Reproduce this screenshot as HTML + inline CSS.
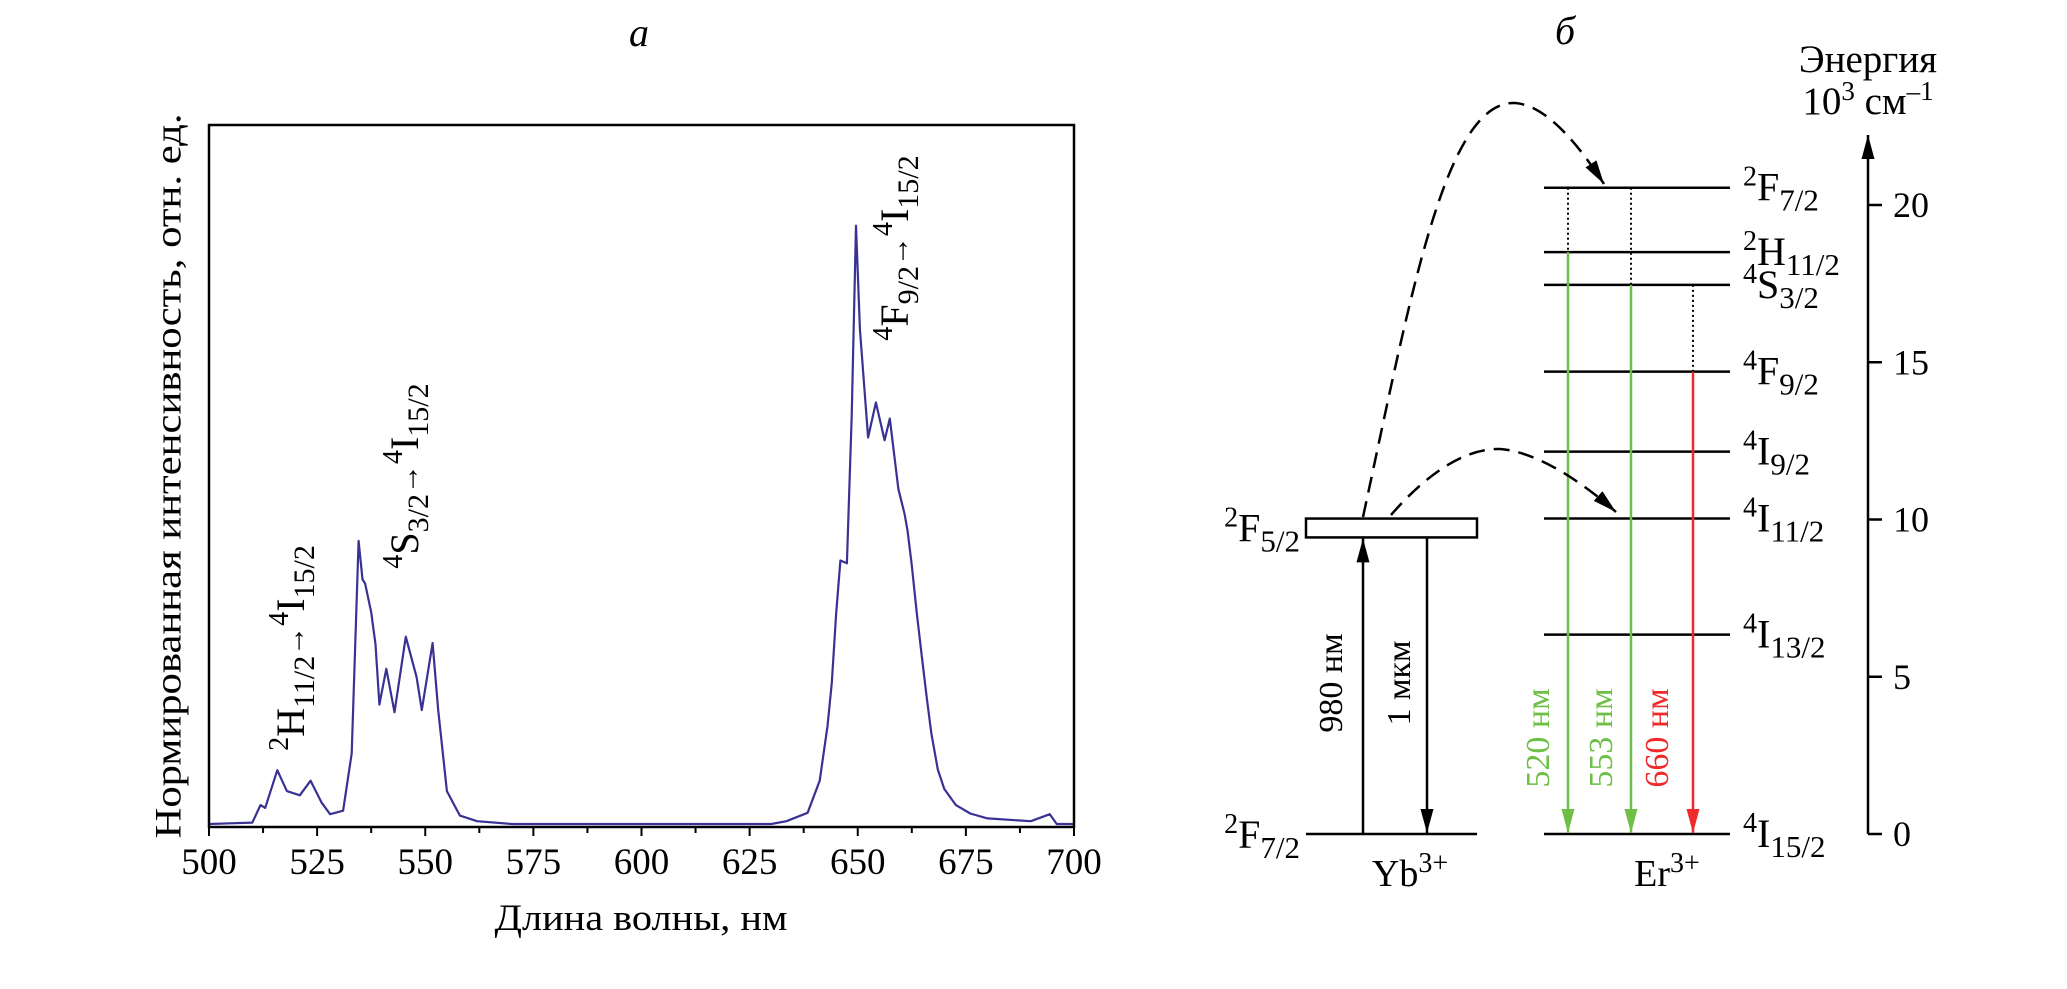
<!DOCTYPE html>
<html><head><meta charset="utf-8"><style>
html,body{margin:0;padding:0;background:#fff;}
svg{display:block;font-family:"Liberation Serif","DejaVu Serif",serif;}
</style></head><body>
<svg id="fig" width="2067" height="989" viewBox="0 0 2067 989" xmlns="http://www.w3.org/2000/svg">
<defs>
<marker id="ahBig" viewBox="0 0 10 10" refX="10" refY="5" markerWidth="24" markerHeight="13" markerUnits="userSpaceOnUse" orient="auto" preserveAspectRatio="none"><path d="M0,0 L10,5 L0,10 z" fill="#000"/></marker>
<marker id="ahGreen" viewBox="0 0 10 10" refX="10" refY="5" markerWidth="24" markerHeight="13" markerUnits="userSpaceOnUse" orient="auto" preserveAspectRatio="none"><path d="M0,0 L10,5 L0,10 z" fill="#6dbf45"/></marker>
<marker id="ahRed" viewBox="0 0 10 10" refX="10" refY="5" markerWidth="24" markerHeight="13" markerUnits="userSpaceOnUse" orient="auto" preserveAspectRatio="none"><path d="M0,0 L10,5 L0,10 z" fill="#ee2a2a"/></marker>
</defs>

<text x="639" y="46" font-size="40" font-style="italic" text-anchor="middle">а</text>
<g id="spec"></g>
<text x="172" y="476" font-size="37" text-anchor="middle" textLength="725" lengthAdjust="spacingAndGlyphs" transform="rotate(-90 172 476)" dominant-baseline="middle">Нормированная интенсивность, отн. ед.</text>
<text x="641" y="930" font-size="37" text-anchor="middle" textLength="293" lengthAdjust="spacingAndGlyphs">Длина волны, нм</text>

<g transform="translate(291 648) rotate(-90)"><text x="0" y="13" font-size="40" text-anchor="middle"><tspan font-size="28" dy="-16">2</tspan><tspan dy="16">H</tspan><tspan font-size="30" dy="10">11/2</tspan><tspan dy="-10" font-size="30">→</tspan><tspan font-size="28" dy="-16">4</tspan><tspan dy="16">I</tspan><tspan font-size="30" dy="10">15/2</tspan></text></g>
<g transform="translate(405 476) rotate(-90)"><text x="0" y="13" font-size="40" text-anchor="middle"><tspan font-size="28" dy="-16">4</tspan><tspan dy="16">S</tspan><tspan font-size="30" dy="10">3/2</tspan><tspan dy="-10" font-size="30">→</tspan><tspan font-size="28" dy="-16">4</tspan><tspan dy="16">I</tspan><tspan font-size="30" dy="10">15/2</tspan></text></g>
<g transform="translate(895 248) rotate(-90)"><text x="0" y="13" font-size="40" text-anchor="middle"><tspan font-size="28" dy="-16">4</tspan><tspan dy="16">F</tspan><tspan font-size="30" dy="10">9/2</tspan><tspan dy="-10" font-size="30">→</tspan><tspan font-size="28" dy="-16">4</tspan><tspan dy="16">I</tspan><tspan font-size="30" dy="10">15/2</tspan></text></g>

<text x="1565" y="44" font-size="40" font-style="italic" text-anchor="middle">б</text>
<g id="diag"></g>
</svg>
<script>
const wavelengths = [500,505,510,511.9,513,515.8,518,521,523.5,526,528,531,533,534.6,535.5,536.1,537.5,538.5,539.4,541,542.9,545.5,548,549.2,551.7,553,555,558,562,570,600,630,633.5,638.4,641.2,643,644,645,646,647.5,648.6,649.6,650.5,652.4,654.2,656.2,657.4,659.4,660.8,661.5,662.5,663.6,664.8,666,667,668.5,670,672.7,676,680,690,694.4,696,700];
const intensity = [0.0,0.001,0.002,0.027,0.023,0.077,0.047,0.041,0.062,0.031,0.014,0.019,0.101,0.405,0.350,0.344,0.303,0.257,0.171,0.222,0.160,0.268,0.210,0.163,0.259,0.163,0.047,0.012,0.004,0.0,0.0,0.0,0.004,0.016,0.062,0.14,0.202,0.30,0.377,0.373,0.584,0.856,0.708,0.553,0.603,0.549,0.580,0.479,0.444,0.42,0.37,0.304,0.24,0.179,0.13,0.078,0.05,0.027,0.015,0.008,0.004,0.014,0.0,0.0];
const xTicks = [500,525,550,575,600,625,650,675,700];
const xTickLabels = ["500","525","550","575","600","625","650","675","700"];

const erLevelEnergies = [20.55,18.5,17.46,14.7,12.16,10.03,6.34,0];
const erLevelNames = [["2","F","7/2"],["2","H","11/2"],["4","S","3/2"],["4","F","9/2"],["4","I","9/2"],["4","I","11/2"],["4","I","13/2"],["4","I","15/2"]];
const ybBoxLow = 9.43, ybBoxHigh = 10.03;
const energyTicks = [0,5,10,15,20];
const emissionFrom = [18.5,17.46,14.7];
const emissionPump = [20.55,20.55,17.46];
const emissionLabels = ["520 нм","553 нм","660 нм"];

const NS="http://www.w3.org/2000/svg";
function mk(tag, attrs, parent){const e=document.createElementNS(NS,tag);for(const k in attrs)e.setAttribute(k,attrs[k]);parent.appendChild(e);return e;}

const PL=209,PR=1074,PT=125,PB=827;
function xs(w){return PL+(w-500)/200*(PR-PL);}
function ys(v){return PB-3-v*699;}
const spec=document.getElementById('spec');
let d="";
wavelengths.forEach((w,i)=>{d+=(i?"L":"M")+xs(w).toFixed(1)+","+ys(intensity[i]).toFixed(1);});
const line=mk('path',{d:d,fill:'none',stroke:'#3a3194','stroke-width':2.2,'stroke-linejoin':'round'},spec);


const frame=mk('rect',{x:PL,y:PT,width:PR-PL,height:PB-PT,fill:'none',stroke:'#000','stroke-width':2.5},spec);


for(let w=500;w<=700;w+=12.5){
  const major=(w%25===0);
  const t=mk('line',{x1:xs(w),x2:xs(w),y1:PB,y2:PB+(major?9:6),stroke:'#000','stroke-width':2},spec);
  
  
}
xTicks.forEach((w,i)=>{
  const t=mk('text',{x:xs(w),y:874,'font-size':37,'text-anchor':'middle'},spec);
  t.textContent=xTickLabels[i];
  
  
});

const diag=document.getElementById('diag');
function ye(e){return 834-e*31.45;}
const ER1=1544,ER2=1730;
function levelLabel(x,y,parts,anchor,name){
  const t=mk('text',{x:x,y:y,'font-size':40,'text-anchor':anchor||'start'},diag);
  
  
  const a=mk('tspan',{'font-size':28,dy:-15},t);a.textContent=parts[0];
  const b=mk('tspan',{dy:15},t);b.textContent=parts[1];
  const c=mk('tspan',{'font-size':31,dy:10},t);c.textContent=parts[2];
}
erLevelEnergies.forEach((e,i)=>{
  const l=mk('line',{x1:ER1,x2:ER2,y1:ye(e),y2:ye(e),stroke:'#000','stroke-width':2.5},diag);
  
  
  levelLabel(1743,ye(e)+13,erLevelNames[i],'start','er-level-label');
});
const gl=mk('line',{x1:1306,x2:1477,y1:ye(0),y2:ye(0),stroke:'#000','stroke-width':2.5},diag);


const box=mk('rect',{x:1306,y:ye(ybBoxHigh),width:171,height:ye(ybBoxLow)-ye(ybBoxHigh),fill:'#fff',stroke:'#000','stroke-width':2.5},diag);


levelLabel(1300,ye(ybBoxLow)+4,["2","F","5/2"],'end','yb-excited-label');
levelLabel(1300,ye(0)+14,["2","F","7/2"],'end','yb-ground-label');
const up=mk('line',{x1:1363,x2:1363,y1:ye(0),y2:ye(ybBoxLow)+1,stroke:'#000','stroke-width':2.5,'marker-end':'url(#ahBig)'},diag);


const dn=mk('line',{x1:1427,x2:1427,y1:ye(ybBoxLow),y2:ye(0)-1,stroke:'#000','stroke-width':2.5,'marker-end':'url(#ahBig)'},diag);


[[1334,"980 нм"],[1402,"1 мкм"]].forEach(p=>{
  const t=mk('text',{x:p[0],y:683,'font-size':34,'text-anchor':'middle','dominant-baseline':'middle',transform:'rotate(-90 '+p[0]+' 683)'},diag);
  t.textContent=p[1];
  
  
});
const emX=[1568,1631,1693], emCol=['#6dbf45','#6dbf45','#ee2a2a'], emMark=['ahGreen','ahGreen','ahRed'], labX=[1541,1604,1660];
emissionFrom.forEach((e,i)=>{
  const dt=mk('line',{x1:emX[i],x2:emX[i],y1:ye(emissionPump[i]),y2:ye(e),stroke:'#000','stroke-width':2,'stroke-dasharray':'2 3'},diag);
  
  
  const a=mk('line',{x1:emX[i],x2:emX[i],y1:ye(e),y2:ye(0)-1,stroke:emCol[i],'stroke-width':2.5,'marker-end':'url(#'+emMark[i]+')'},diag);
  
  
  const t=mk('text',{x:labX[i],y:738,'font-size':34,fill:emCol[i],'text-anchor':'middle','dominant-baseline':'middle',transform:'rotate(-90 '+labX[i]+' 738)'},diag);
  t.textContent=emissionLabels[i];
  
  
});
const c1=mk('path',{d:'M1363,517 C1410,300 1445,100 1515,103 C1548,105 1582,150 1604,184',fill:'none',stroke:'#000','stroke-width':2.5,'stroke-dasharray':'16 9','marker-end':'url(#ahBig)'},diag);


const c2=mk('path',{d:'M1391,515 C1430,470 1468,448 1500,449 C1540,452 1588,487 1616,512',fill:'none',stroke:'#000','stroke-width':2.5,'stroke-dasharray':'16 9','marker-end':'url(#ahBig)'},diag);


[[1410,"Yb","yb-ion-label"],[1667,"Er","er-ion-label"]].forEach(p=>{
  const t=mk('text',{x:p[0],y:886,'font-size':38,'text-anchor':'middle'},diag);
  
  
  const a=mk('tspan',{},t);a.textContent=p[1];
  const b=mk('tspan',{'font-size':28,dy:-14},t);b.textContent="3+";
});
const ax=mk('line',{x1:1868,x2:1868,y1:ye(0),y2:135,stroke:'#000','stroke-width':2.5,'marker-end':'url(#ahBig)'},diag);


energyTicks.forEach(e=>{
  const t=mk('line',{x1:1868,x2:1882,y1:ye(e),y2:ye(e),stroke:'#000','stroke-width':2.5},diag);
  
  
  const l=mk('text',{x:1893,y:ye(e)+12,'font-size':36},diag);
  l.textContent=String(e);
  
  
});
const et=mk('text',{x:1868,y:72,'font-size':39,'text-anchor':'middle'},diag);
et.textContent="Энергия";


const eu=mk('text',{x:1868,y:114,'font-size':39,'text-anchor':'middle'},diag);


const u1=mk('tspan',{},eu);u1.textContent="10";
const u2=mk('tspan',{'font-size':27,dy:-14},eu);u2.textContent="3";
const u3=mk('tspan',{dy:14},eu);u3.textContent=" см";
const u4=mk('tspan',{'font-size':27,dy:-14},eu);u4.textContent="–1";
</script>
</body></html>
